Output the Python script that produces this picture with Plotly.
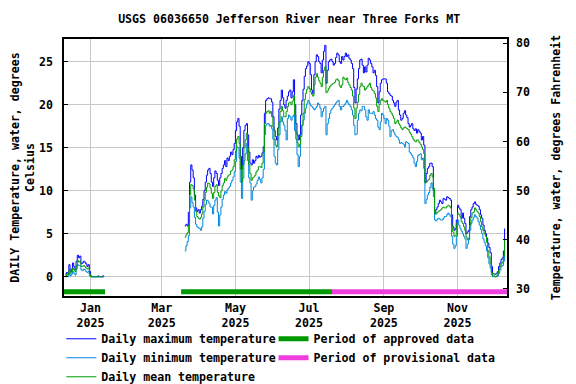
import pandas as pd
import plotly.graph_objects as go

# ---------------- data (degrees Celsius) ----------------
# Winter segment: daily values starting 2024-12-11
early_start = "2024-12-11"
early_max = [0.3, 0.5, 0.4, 1.4, 0.6, 0.9, 1.6, 1.2, 0.8, 1.8, 2.5, 2.2, 2.4, 1.5, 1.6, 1.8, 1.7,
             1.5, 1.2, 1.4, 0.6, 0.1, 0.0, 0.0, 0.0, 0.0, 0.0, 0.1, 0.0, 0.0, 0.0, 0.1, 0.0]
early_mean = [0.1, 0.3, 0.2, 0.8, 0.4, 0.6, 1.0, 0.8, 0.6, 1.3, 1.9, 1.7, 1.8, 1.2, 1.2, 1.3, 1.2,
              1.0, 0.9, 1.0, 0.3, 0.0, 0.0, 0.0, 0.0, 0.0, 0.0, 0.0, 0.0, 0.0, 0.0, 0.0, 0.0]
early_min = [0.0, 0.1, 0.0, 0.4, 0.1, 0.3, 0.6, 0.4, 0.2, 0.9, 1.4, 1.3, 1.3, 0.8, 0.7, 0.9, 0.8,
             0.6, 0.5, 0.6, 0.1, 0.0, 0.0, 0.0, 0.0, 0.0, 0.0, 0.0, 0.0, 0.0, 0.0, 0.0, 0.0]

# Main segment: daily values starting 2025-03-20
main_start = "2025-03-20"
main_max = [
    5.9, 6.1, 5.9, 7.5, 11.0, 13.0, 12.4, 11.5, 9.5, 8.0, 7.6, 7.8, 7.4, 7.8, 8.2, 9.0, 10.0, 11.0, 11.8, 12.4, 12.6, 12.0,
    11.0, 10.5, 11.5, 12.3, 12.0, 11.2, 10.6, 11.5, 12.0, 12.6, 13.0, 13.5, 12.8, 13.8, 13.5, 14.0, 14.5, 14.2, 14.8, 15.5, 17.0,
    18.0, 18.4, 17.5, 14.0, 12.5, 15.0, 17.0, 17.6, 17.8, 16.5, 14.5, 13.2, 13.0, 13.6, 13.2, 13.5, 14.0, 13.8, 14.1, 13.9, 14.0,
    14.4, 15.1, 19.0, 20.5, 20.7, 20.8, 20.7, 20.7, 20.3, 18.6, 17.0, 16.3, 15.9, 17.3, 19.5, 20.5, 21.7, 20.8, 20.0, 19.6, 20.5,
    21.0, 21.5, 21.7, 20.8, 21.5, 22.9, 20.0, 17.8, 16.5, 15.9, 16.5, 18.8, 20.5, 21.8, 23.3, 24.2, 24.5, 25.0, 24.8, 23.5, 21.7,
    21.3, 23.5, 25.0, 25.8, 25.6, 25.0, 24.8, 23.7, 25.2, 26.2, 26.9, 22.5, 24.0, 25.0, 25.2, 25.3, 25.0, 24.6, 24.8, 25.5, 26.0,
    25.8, 25.0, 24.8, 25.6, 25.2, 25.6, 26.0, 25.6, 25.8, 25.4, 25.2, 24.8, 24.2, 22.0, 20.2, 21.8, 23.0, 24.2, 25.2, 25.3, 24.6,
    23.7, 24.4, 23.8, 24.6, 25.4, 25.2, 24.8, 24.4, 23.7, 24.0, 23.4, 22.1, 20.2, 21.5, 22.5, 22.9, 23.0, 23.0, 23.0, 22.5, 21.5,
    21.3, 21.1, 21.0, 20.5, 20.2, 19.8, 20.3, 20.5, 19.4, 18.8, 18.2, 18.4, 19.0, 19.3, 18.8, 18.5, 17.8, 17.4, 17.6, 17.8, 17.2,
    17.0, 17.2, 16.7, 17.1, 16.9, 16.7, 15.9, 16.3, 15.3, 11.0, 12.0, 12.6, 12.8, 13.2, 13.2, 12.8, 10.0, 7.3, 7.8, 8.1, 8.5,
    8.9, 8.7, 8.5, 9.1, 9.0, 8.9, 9.3, 9.2, 9.1, 8.9, 7.2, 5.8, 5.4, 5.6, 6.6, 8.3, 8.0, 7.8, 6.8, 7.4, 6.8,
    6.2, 5.0, 5.2, 5.4, 7.0, 7.8, 8.1, 8.5, 8.7, 8.4, 8.3, 8.2, 7.8, 7.2, 6.8, 6.0, 5.4, 5.0, 4.5, 3.9, 3.4,
    2.8, 1.2, 0.4, 0.3, 0.3, 0.4, 0.6, 1.2, 1.6, 2.0, 2.2, 3.0, 5.6,
]
main_mean = [
    4.6, 4.9, 5.1, 6.0, 9.5, 10.7, 10.6, 10.2, 8.9, 7.6, 7.0, 6.8, 6.7, 6.9, 7.3, 8.1, 8.9, 9.8, 10.4, 10.9, 10.8, 10.3,
    9.7, 9.1, 9.8, 10.5, 10.7, 9.8, 9.4, 9.2, 10.0, 10.6, 10.9, 11.4, 11.2, 11.6, 11.8, 11.9, 12.3, 12.4, 12.8, 13.6, 14.6,
    16.0, 16.3, 15.5, 12.5, 11.0, 13.0, 15.0, 15.9, 16.7, 15.0, 13.0, 12.0, 11.2, 11.5, 11.6, 11.8, 12.2, 12.4, 12.8, 12.8, 12.7,
    13.2, 14.5, 17.8, 19.0, 19.2, 19.3, 19.0, 19.2, 18.6, 17.4, 16.0, 15.3, 15.1, 16.5, 18.0, 19.2, 19.8, 19.3, 18.6, 18.6, 19.2,
    19.8, 20.2, 20.3, 20.0, 20.4, 21.1, 18.8, 16.8, 15.6, 15.1, 15.4, 16.3, 17.6, 19.0, 20.6, 21.3, 21.8, 22.1, 21.9, 21.5, 21.2,
    21.0, 22.3, 23.2, 23.6, 23.2, 22.8, 22.5, 22.1, 23.2, 24.0, 24.4, 21.4, 21.6, 21.9, 22.1, 22.3, 22.4, 22.5, 22.6, 22.9, 23.0,
    22.8, 22.2, 22.0, 22.3, 23.2, 23.0, 22.9, 23.1, 22.6, 22.3, 22.0, 21.7, 21.0, 19.6, 18.4, 19.6, 20.3, 21.2, 22.1, 22.5, 22.2,
    22.1, 21.7, 21.9, 22.1, 22.3, 22.5, 22.0, 21.7, 21.6, 21.3, 20.8, 19.8, 19.2, 20.0, 20.5, 20.7, 20.5, 20.4, 20.3, 20.5, 20.0,
    19.6, 19.2, 19.0, 18.7, 18.4, 17.8, 18.0, 18.2, 17.8, 17.6, 17.3, 17.1, 17.3, 17.4, 17.3, 17.2, 17.1, 16.8, 16.6, 16.3, 16.0,
    15.8, 15.7, 15.9, 15.9, 15.6, 15.4, 15.1, 14.8, 14.3, 10.9, 11.0, 11.2, 11.3, 11.8, 12.0, 11.6, 10.3, 7.4, 7.3, 7.5, 7.6,
    7.7, 7.8, 8.0, 8.1, 8.0, 8.0, 8.2, 8.3, 8.2, 8.0, 6.0, 5.2, 4.7, 4.8, 6.2, 7.4, 7.2, 7.0, 6.4, 6.2, 5.8,
    5.4, 4.6, 4.3, 4.3, 6.0, 6.9, 7.4, 7.5, 8.0, 7.8, 7.6, 7.4, 7.0, 6.4, 5.8, 5.4, 5.0, 4.7, 4.0, 3.0, 2.3,
    1.6, 0.5, 0.1, 0.1, 0.0, 0.1, 0.3, 0.8, 1.2, 1.5, 1.7, 2.4, 4.3,
]
main_min = [
    3.0, 3.6, 4.1, 4.8, 8.0, 9.3, 8.6, 8.1, 6.9, 6.1, 5.8, 5.7, 5.6, 5.4, 5.8, 6.8, 7.6, 8.4, 8.9, 8.8, 8.5, 8.1,
    8.1, 7.3, 8.3, 8.9, 9.2, 7.5, 5.9, 7.2, 8.1, 9.0, 9.5, 9.9, 9.7, 10.1, 10.3, 10.5, 10.9, 11.2, 11.6, 12.2, 13.4,
    15.1, 15.0, 13.8, 11.0, 9.1, 11.5, 13.5, 14.3, 15.5, 13.5, 11.5, 10.9, 8.9, 10.0, 10.4, 10.5, 10.8, 11.2, 11.6, 11.3, 10.9,
    11.5, 12.5, 16.5, 17.6, 17.8, 17.8, 17.5, 17.6, 17.2, 16.0, 14.0, 13.2, 13.0, 14.8, 16.5, 18.0, 18.6, 18.0, 17.6, 17.0, 15.9,
    18.4, 18.8, 18.6, 18.2, 18.6, 18.8, 17.0, 16.0, 14.2, 12.8, 14.0, 16.5, 17.6, 18.2, 19.0, 19.6, 20.1, 20.5, 20.2, 19.9, 19.8,
    19.6, 19.4, 19.6, 19.8, 20.2, 20.0, 19.6, 18.6, 19.2, 19.6, 19.8, 16.5, 17.8, 18.4, 19.0, 19.4, 19.6, 19.8, 20.0, 20.2, 20.4,
    20.5, 19.8, 19.4, 19.8, 19.8, 20.0, 20.2, 20.5, 20.2, 20.0, 19.8, 19.4, 18.8, 17.6, 16.5, 16.6, 18.2, 19.0, 19.4, 19.3, 19.8,
    19.8, 19.4, 18.6, 18.2, 19.4, 19.0, 19.0, 19.0, 19.2, 18.8, 18.4, 18.2, 17.4, 17.1, 18.0, 19.0, 18.8, 18.4, 17.8, 18.4, 18.2,
    17.5, 16.3, 17.0, 17.1, 16.8, 16.5, 16.3, 16.2, 15.9, 15.5, 15.6, 15.5, 15.4, 15.1, 15.7, 15.6, 15.5, 14.5, 14.3, 14.1, 13.8,
    13.2, 12.8, 13.4, 14.1, 14.2, 14.3, 13.6, 13.8, 12.6, 8.5, 9.0, 9.5, 9.8, 10.4, 10.9, 10.2, 9.3, 6.6, 6.5, 6.7, 6.8,
    6.7, 6.6, 6.6, 6.8, 7.0, 7.0, 7.2, 7.4, 7.2, 7.0, 4.7, 3.8, 3.3, 3.6, 4.7, 6.6, 6.0, 5.6, 5.3, 5.0, 4.7,
    4.4, 3.3, 3.8, 4.5, 5.4, 6.2, 6.6, 6.9, 7.2, 7.0, 6.8, 6.4, 6.0, 5.5, 5.0, 4.4, 4.0, 3.6, 3.0, 2.2, 1.5,
    1.0, 0.2, 0.0, 0.0, 0.0, 0.0, 0.1, 0.4, 0.8, 1.2, 1.3, 1.8, 3.1,
]

# Data-status periods (start, end)
approved_periods = [("2024-12-09", "2025-01-13"), ("2025-03-17", "2025-07-20")]
provisional_periods = [("2025-07-20", "2025-12-13")]

title_text = "USGS 06036650 Jefferson River near Three Forks MT"
x_tickvals = ["2025-01-01", "2025-03-01", "2025-05-01", "2025-07-01", "2025-09-01", "2025-11-01"]
x_ticktext = ["Jan<br>2025", "Mar<br>2025", "May<br>2025", "Jul<br>2025", "Sep<br>2025", "Nov<br>2025"]
c_ticks = [0, 5, 10, 15, 20, 25]
f_ticks = [30, 40, 50, 60, 70, 80]

# ---------------- styling ----------------
FONT = "DejaVu Sans Mono"
FS = 11.6
C_MAX, C_MIN, C_MEAN = "#0000FF", "#0088DD", "#009C00"
C_APPR, C_PROV = "#009900", "#EE3EDD"
BAR_LEVEL = -1.74
C_RANGE = [-2.24, 27.64]
F_RANGE = [28.51, 80.88]
X_RANGE = ["2024-12-10", "2025-12-12"]

fig = go.Figure()


def add_series(start, values, name, color, showlegend):
    dates = pd.date_range(start, periods=len(values), freq="D")
    fig.add_trace(go.Scatter(x=dates, y=values, mode="lines", name=name,
                             line=dict(color=color, width=1, shape="hv"),
                             legend="legend", legendgroup=name, showlegend=showlegend))


add_series(early_start, early_max, "Daily maximum temperature", C_MAX, True)
add_series(main_start, main_max, "Daily maximum temperature", C_MAX, False)
add_series(early_start, early_min, "Daily minimum temperature", C_MIN, True)
add_series(main_start, main_min, "Daily minimum temperature", C_MIN, False)
add_series(early_start, early_mean, "Daily mean temperature", C_MEAN, True)
add_series(main_start, main_mean, "Daily mean temperature", C_MEAN, False)

for i, (s, e) in enumerate(approved_periods):
    fig.add_trace(go.Scatter(x=[s, e], y=[BAR_LEVEL, BAR_LEVEL], mode="lines",
                             name="Period of approved data", line=dict(color=C_APPR, width=5),
                             legend="legend2", legendgroup="appr", showlegend=(i == 0)))
for i, (s, e) in enumerate(provisional_periods):
    fig.add_trace(go.Scatter(x=[s, e], y=[BAR_LEVEL, BAR_LEVEL], mode="lines",
                             name="Period of provisional data", line=dict(color=C_PROV, width=5),
                             legend="legend2", legendgroup="prov", showlegend=(i == 0)))

# invisible trace to activate the Fahrenheit axis
fig.add_trace(go.Scatter(x=[X_RANGE[0]], y=[f_ticks[0]], yaxis="y2", mode="markers",
                         marker=dict(opacity=0), showlegend=False, hoverinfo="skip"))

font = dict(family=FONT, size=FS, color="black", weight="bold")

# the page body adds an 8px offset, so the figure is drawn 8px smaller
fig.update_layout(
    width=568, height=376,
    margin=dict(l=56, r=69, t=31, b=88, autoexpand=False),
    paper_bgcolor="white", plot_bgcolor="white",
    font=font,
    title=dict(text=title_text, x=0.495, xanchor="center", y=0.971, yanchor="middle",
               font=font),
    xaxis=dict(range=X_RANGE, tickvals=x_tickvals, ticktext=x_ticktext, automargin=False,
               showgrid=True, gridcolor="#C8C8C8", gridwidth=1,
               showline=True, linecolor="black", linewidth=1.5, mirror=True,
               ticks="", zeroline=False, tickfont=font),
    yaxis=dict(range=C_RANGE, tickvals=c_ticks, showgrid=True, gridcolor="#C8C8C8",
               gridwidth=1, showline=True, linecolor="black", linewidth=1.5, mirror=True,
               ticks="inside", ticklen=4, tickcolor="black", zeroline=False, automargin=False,
               ticklabelstandoff=7, tickfont=font,
               title=dict(text="DAILY Temperature, water, degrees<br>Celsius", font=font,
                          standoff=11)),
    yaxis2=dict(range=F_RANGE, tickvals=f_ticks, overlaying="y", side="right",
                showgrid=False, ticks="inside", ticklen=4, tickcolor="black", automargin=False,
                zeroline=False, showline=False, ticklabelstandoff=8, tickfont=font,
                title=dict(text="Temperature, water, degrees Fahrenheit", font=font,
                           standoff=22)),
    legend=dict(x=-0.006, y=-0.11, xanchor="left", yanchor="top", orientation="v",
                font=font, bgcolor="rgba(0,0,0,0)", tracegroupgap=0, itemwidth=30),
    legend2=dict(x=0.473, y=-0.11, xanchor="left", yanchor="top", orientation="v",
                 font=font, bgcolor="rgba(0,0,0,0)", tracegroupgap=0, itemwidth=30),
)

fig.write_html("out.html")
